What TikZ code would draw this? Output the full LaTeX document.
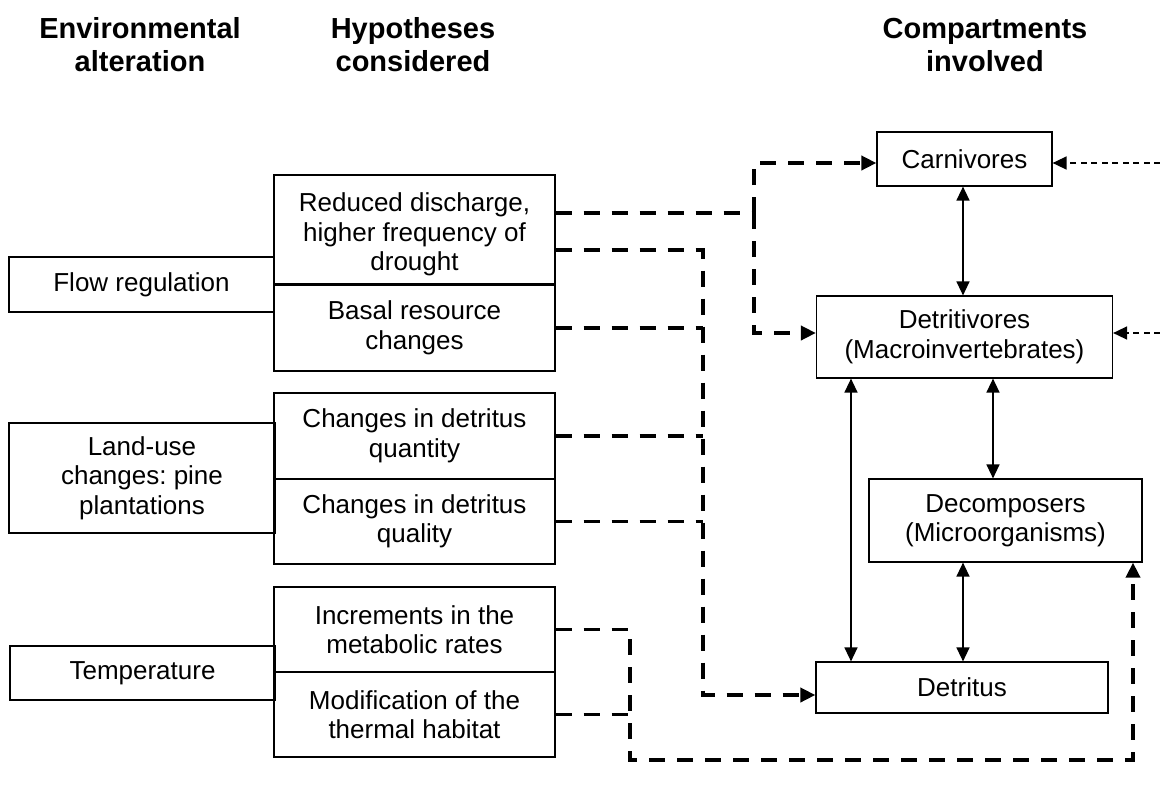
\documentclass[tikz,border=0pt]{standalone}
\usepackage{fontspec}
\setmainfont{Liberation Sans}
\usetikzlibrary{arrows.meta}

\tikzset{
  box/.style={draw, line width=1.2pt, align=center, inner sep=0pt,
    font=\fontsize{26}{29.5}\selectfont\frenchspacing},
  heading/.style={align=center, font=\fontsize{29}{33}\selectfont\bfseries},
  link/.style={line width=1.4pt,
    {Triangle[length=14pt,width=13pt]}-{Triangle[length=14pt,width=13pt]}},
  hypo/.style={line width=3.6pt, dash pattern=on 16pt off 12pt},
  hypoarrow/.style={hypo, -{Triangle[length=15pt,width=14pt]}},
  feed/.style={line width=1.5pt, dash pattern=on 6pt off 4.5pt,
    -{Triangle[length=14pt,width=13pt]}},
}

\begin{document}
\begin{tikzpicture}[x=1pt,y=-1pt]
        \useasboundingbox (0,0) rectangle (1160,785);

        % Column titles
        \node[heading] (envtitle) at (140,45) {Environmental\\alteration};
        \node[heading] (hyptitle) at (413,45) {Hypotheses\\considered};
        \node[heading] (comptitle) at (985,45) {Compartments\\involved};

        % Environmental alterations
        \node[box, minimum width=265pt, minimum height=55pt] (flow) at (141.5,284.5) {Flow regulation};
        \node[box, minimum width=266pt, minimum height=110pt] (landuse) at (142,478) {Land-use\\changes: pine\\plantations};
        \node[box, minimum width=265pt, minimum height=54pt] (temp) at (142.5,673) {Temperature};

        % Hypotheses
        \node[box, minimum width=281pt, minimum height=109pt] (drought) at (414.5,229.5) {};
        \node[box, draw=none] (droughttext) at (414.5,234.5) {Reduced discharge,\\higher frequency of\\drought};
        \node[box, minimum width=281pt, minimum height=86pt] (basal) at (414.5,328) {Basal resource\\changes};
        \node[box, minimum width=281pt, minimum height=86pt] (quantity) at (414.5,436) {Changes in detritus\\quantity};
        \node[box, minimum width=281pt, minimum height=85pt] (quality) at (414.5,521.5) {Changes in detritus\\quality};
        \node[box, minimum width=281pt, minimum height=85pt] (metabolic) at (414.5,629.5) {Increments in the\\metabolic rates};
        \node[box, minimum width=281pt, minimum height=85pt] (thermal) at (414.5,714.5) {Modification of the\\thermal habitat};

        % Compartments
        \node[box, minimum width=175pt, minimum height=54pt] (carn) at (964.5,159) {Carnivores};
        \node[box, minimum width=296pt, minimum height=82pt] (detv) at (964.5,337) {Detritivores\\(Macroinvertebrates)};
        \node[box, minimum width=273pt, minimum height=83pt] (decomp) at (1005.5,520.5) {Decomposers\\(Microorganisms)};
        \node[box, minimum width=292pt, minimum height=51pt] (detritus) at (962,687.5) {Detritus};

        % Trophic links
        \coordinate (colA) at (851,0);
        \coordinate (colB) at (963,0);
        \coordinate (colC) at (993,0);
        \draw[link] (carn.south -| colB) -- (detv.north -| colB);
        \draw[link] (detv.south -| colA) -- (detritus.north -| colA);
        \draw[link] (detv.south -| colC) -- (decomp.north -| colC);
        \draw[link] (decomp.south -| colB) -- (detritus.north -| colB);

        % Hypotheses -> compartments
        \coordinate (splitA) at (754,213);
        \draw[hypo] ([yshift=16.5pt]drought.east) -- (splitA);
        \draw[hypoarrow] (splitA) |- ([yshift=-4pt]carn.west);
        \draw[hypoarrow] (splitA) |- ([yshift=4pt]detv.west);

        \coordinate (busB) at (703,695);
        \draw[hypoarrow] ([yshift=-20.5pt]drought.east) -| (busB) -- ([yshift=-7.5pt]detritus.west);
        \draw[hypo] (basal.east) -- (basal.east -| busB);
        \draw[hypo] (quantity.east) -- (quantity.east -| busB);
        \draw[hypo] (quality.east) -- (quality.east -| busB);

        \coordinate (busC) at (630,760);
        \draw[hypoarrow] (metabolic.east) -| (busC) -| ([xshift=127.5pt]decomp.south);
        \draw[hypo] (thermal.east) -- (thermal.east -| busC);

        % Inputs from outside
        \coordinate (edgeC) at (1160,163);
        \coordinate (edgeD) at (1160,333);
        \draw[feed] (edgeC) -- ([yshift=-4pt]carn.east);
        \draw[feed] (edgeD) -- ([yshift=4pt]detv.east);
\end{tikzpicture}
\end{document}
